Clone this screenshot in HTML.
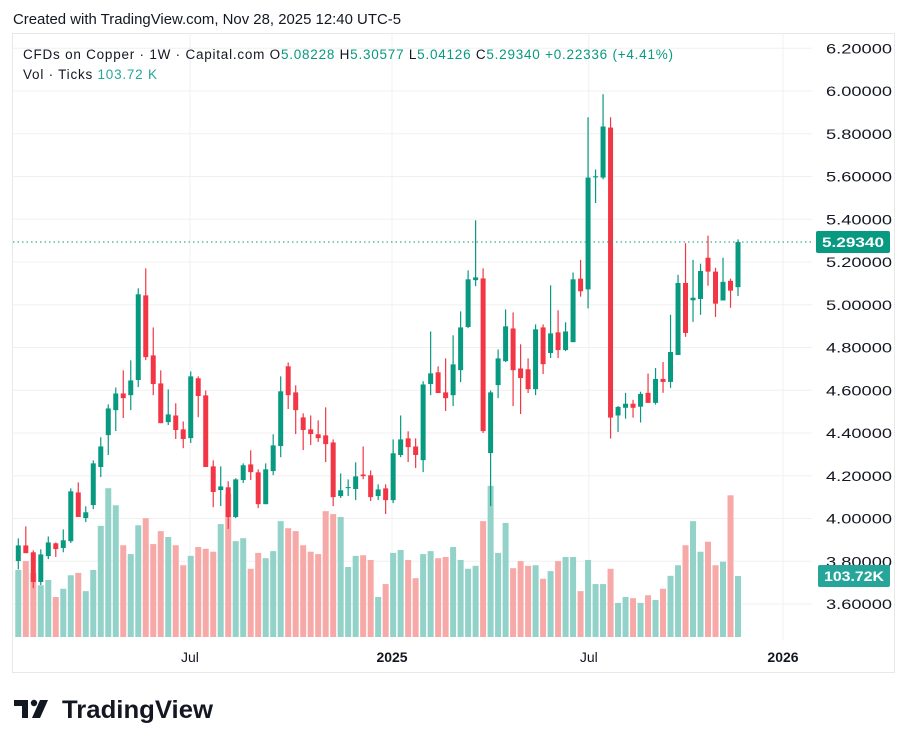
<!DOCTYPE html>
<html><head><meta charset="utf-8"><style>
body{margin:0;background:#fff;width:907px;height:747px;overflow:hidden;font-family:"Liberation Sans",sans-serif;}
svg text{font-family:"Liberation Sans",sans-serif;}
</style></head><body>
<svg id="c" width="907" height="747" xmlns="http://www.w3.org/2000/svg">
<text x="13" y="24" font-size="14.5" fill="#131722" textLength="388" lengthAdjust="spacingAndGlyphs">Created with TradingView.com, Nov 28, 2025 12:40 UTC-5</text>
<rect x="12.5" y="33.5" width="882" height="639" fill="none" stroke="#e8e8e8"/>
<g id="grid"></g>
<g id="vol"></g>
<g id="candles"></g>
<g id="axis"></g>
<text x="23" y="59" font-size="13.5" fill="#131722" textLength="650" lengthAdjust="spacing">CFDs on Copper · 1W · Capital.com  O<tspan fill="#089981">5.08228</tspan>  H<tspan fill="#089981">5.30577</tspan>  L<tspan fill="#089981">5.04126</tspan>  C<tspan fill="#089981">5.29340</tspan>  <tspan fill="#089981">+0.22336 (+4.41%)</tspan></text>
<text x="23" y="79" font-size="13.5" fill="#131722" textLength="134" lengthAdjust="spacing">Vol · Ticks  <tspan fill="#26a69a">103.72 K</tspan></text>
<g>
<path d="M14 700h14v18h-6v-12h-8z" fill="#131722"/>
<circle cx="34" cy="703" r="3.2" fill="#131722"/>
<path d="M40 700h8l-8 18h-8z" fill="#131722"/>
<text x="62" y="718" font-size="25" font-weight="bold" fill="#131722" textLength="151" lengthAdjust="spacingAndGlyphs">TradingView</text>
</g>
</svg>
<script>
const opens=[3.801,3.874,3.842,3.703,3.824,3.884,3.862,3.894,4.122,4.002,4.063,4.241,4.390,4.507,4.585,4.577,4.648,5.044,4.763,4.632,4.451,4.482,4.417,4.376,4.656,4.576,4.244,4.133,4.146,4.007,4.180,4.253,4.216,4.067,4.222,4.339,4.712,4.590,4.473,4.417,4.394,4.389,4.356,4.105,4.142,4.138,4.206,4.202,4.105,4.141,4.086,4.297,4.375,4.337,4.273,4.629,4.684,4.590,4.577,4.694,4.896,5.115,5.123,4.306,4.624,4.736,4.889,4.702,4.698,4.605,4.894,4.774,4.871,4.788,4.825,5.122,5.072,5.596,5.595,5.829,4.482,4.518,4.537,4.523,4.588,4.541,4.653,4.639,4.765,5.102,5.021,5.027,5.220,5.155,5.020,5.112,5.08228];
const highs=[3.907,3.963,3.851,3.856,3.916,3.888,3.949,4.141,4.169,4.057,4.272,4.380,4.534,4.613,4.693,4.740,5.077,5.170,4.894,4.693,4.604,4.539,4.454,4.688,4.665,4.599,4.272,4.244,4.174,4.188,4.258,4.319,4.230,4.258,4.394,4.665,4.730,4.623,4.492,4.482,4.459,4.520,4.370,4.211,4.183,4.263,4.337,4.225,4.160,4.160,4.370,4.482,4.408,4.375,4.642,4.875,4.712,4.749,4.857,4.969,5.161,5.395,5.170,4.599,4.791,4.978,4.964,4.815,4.749,4.908,4.908,5.091,4.974,4.918,5.151,5.210,5.877,5.633,5.985,5.877,4.526,4.588,4.555,4.593,4.678,4.704,4.732,4.953,5.140,5.288,5.210,5.192,5.323,5.173,5.220,5.122,5.30577];
const lows=[3.762,3.838,3.674,3.689,3.810,3.820,3.842,3.885,4.007,3.983,4.044,4.194,4.297,4.409,4.470,4.507,4.615,4.741,4.577,4.446,4.437,4.372,4.329,4.353,4.474,4.241,4.053,4.058,3.951,4.002,4.166,4.180,4.049,4.067,4.203,4.287,4.512,4.395,4.320,4.344,4.358,4.264,4.058,4.096,4.105,4.086,4.184,4.082,4.086,4.021,4.072,4.287,4.264,4.236,4.217,4.577,4.587,4.503,4.526,4.638,4.891,5.087,4.400,4.058,4.563,4.732,4.526,4.489,4.587,4.577,4.676,4.751,4.751,4.783,4.825,5.038,4.983,5.476,5.587,4.374,4.405,4.467,4.472,4.449,4.541,4.533,4.588,4.611,4.765,4.850,4.920,4.953,5.089,4.943,5.020,4.986,5.04126];
const closes=[3.874,3.838,3.703,3.832,3.888,3.857,3.898,4.127,4.007,4.029,4.258,4.337,4.515,4.585,4.563,4.646,5.049,4.755,4.629,4.446,4.487,4.414,4.372,4.665,4.573,4.241,4.124,4.150,4.007,4.183,4.249,4.217,4.067,4.230,4.342,4.595,4.577,4.507,4.414,4.395,4.376,4.348,4.100,4.132,4.147,4.197,4.198,4.100,4.136,4.086,4.305,4.370,4.334,4.297,4.627,4.679,4.587,4.563,4.721,4.894,5.119,5.128,4.409,4.590,4.749,4.899,4.694,4.657,4.605,4.885,4.722,4.866,4.788,4.875,5.119,5.063,5.595,5.601,5.834,4.472,4.522,4.537,4.518,4.583,4.541,4.653,4.639,4.779,5.102,4.868,5.033,5.158,5.155,5.005,5.107,5.066,5.29340];
const volumes=[114,129,109,88,97,68,82,105,109,78,114,189,253,224,156,141,190,202,158,180,170,156,122,138,153,150,145,192,243,163,168,116,143,134,146,197,185,180,156,145,141,214,209,204,119,138,139,131,68,90,143,148,131,100,141,146,134,136,153,131,116,121,197,257,143,194,117,129,121,122,99,112,129,136,136,78,131,90,90,116,58,68,66,58,71,63,82,104,122,156,197,145,162,122,128,241,103.72];
const priceTicks=["6.20000","6.00000","5.80000","5.60000","5.40000","5.20000","5.00000","4.80000","4.60000","4.40000","4.20000","4.00000","3.80000","3.60000"];
const timeLabels=["Jul","2025","Jul","2026"];
const timeLabelIdx=[22.9,49.85,76.1,102];
const timeLabelBold=[false,true,false,true];

const NS="http://www.w3.org/2000/svg";
const X0=18.3,DX=7.497,Y6=91,PPU=213.75,VBASE=637,VSCALE=61/103.72;
const xs=i=>X0+i*DX;
const ys=p=>Y6+(6-p)*PPU;
const vh=v=>v*VSCALE;
function mk(tag,attrs,parent){const e=document.createElementNS(NS,tag);for(const k in attrs)e.setAttribute(k,attrs[k]);parent.appendChild(e);return e;}
const grid=document.getElementById('grid'),vol=document.getElementById('vol'),cg=document.getElementById('candles'),ax=document.getElementById('axis');
priceTicks.forEach(t=>{
  const y=ys(parseFloat(t));
  const l=mk('line',{x1:13,x2:812,y1:y,y2:y,stroke:'#f0f0f0'},grid);
  
  
  const tx=mk('text',{x:826,y:y+5,'font-size':14,fill:'#131722',textLength:66,lengthAdjust:'spacingAndGlyphs'},ax);
  tx.textContent=t;
  
  
});
timeLabels.forEach((t,k)=>{
  const x=xs(timeLabelIdx[k]);
  const l=mk('line',{x1:x,x2:x,y1:34,y2:640,stroke:'#f0f0f0'},grid);
  
  
  const tx=mk('text',{x:x,y:662,'font-size':14,'text-anchor':'middle',fill:'#131722','font-weight':timeLabelBold[k]?'bold':'normal'},ax);
  tx.textContent=t;
  
  
});
opens.forEach((o,i)=>{
  const c=closes[i],up=c>=o,x=xs(i);
  const h=vh(volumes[i]);
  const b=mk('rect',{x:x-3,y:VBASE-h,width:6,height:h,fill:up?'#92d2c9':'#f7a9a7'},vol);
  
  
  const col=up?'#089981':'#f23645';
  const g=mk('g',{},cg);
  
  
  mk('line',{x1:x,x2:x,y1:ys(highs[i]),y2:ys(lows[i]),stroke:col,'stroke-width':1.2},g);
  const top=ys(Math.max(o,c)),bot=ys(Math.min(o,c));
  mk('rect',{x:x-2.5,y:top,width:5,height:Math.max(1,bot-top),fill:col},g);
});
const last=closes[closes.length-1],ly=ys(last);
const pl=mk('line',{x1:13,x2:812,y1:ly,y2:ly,stroke:'#089981','stroke-dasharray':'1.5 3'},ax);


const pb=mk('rect',{x:816,y:ly-11,width:74,height:22,rx:2,fill:'#089981'},ax);


const pt=mk('text',{x:853,y:ly+5,'font-size':14,'font-weight':'bold','text-anchor':'middle',fill:'#fff',textLength:62,lengthAdjust:'spacingAndGlyphs'},ax);
pt.textContent=last.toFixed(5);


const lv=volumes[volumes.length-1],vy=VBASE-vh(lv);
const vb=mk('rect',{x:818,y:vy-11,width:72,height:22,rx:2,fill:'#26a69a'},ax);


const vt=mk('text',{x:854,y:vy+5,'font-size':14,'font-weight':'bold','text-anchor':'middle',fill:'#fff',textLength:60,lengthAdjust:'spacingAndGlyphs'},ax);
vt.textContent=lv.toFixed(2)+'K';


</script>
</body></html>
